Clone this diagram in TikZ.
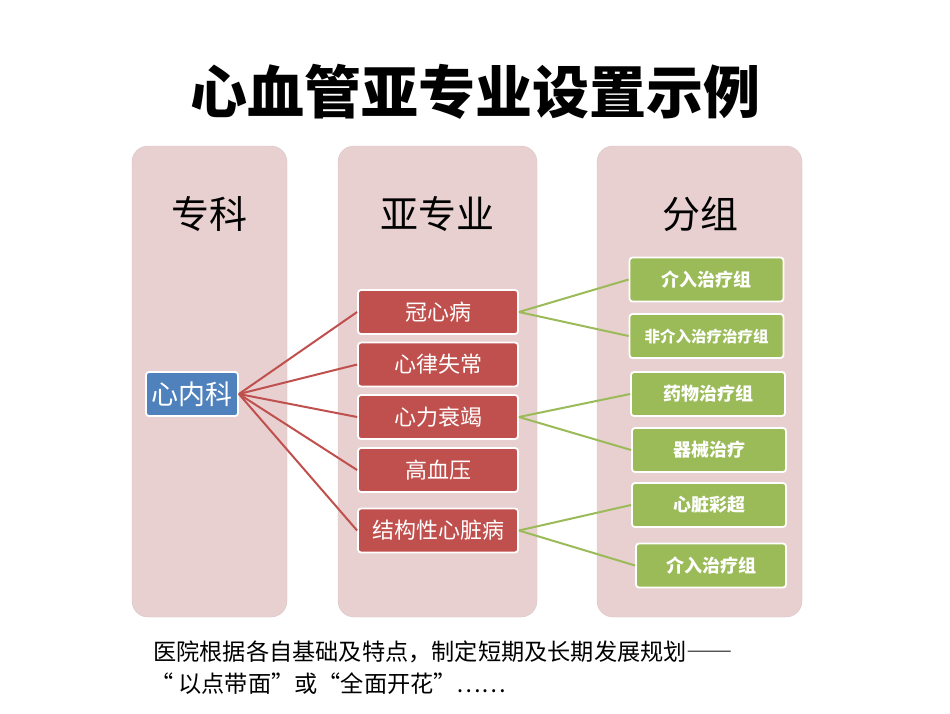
\documentclass[tikz,border=0pt]{standalone}
\usepackage{fontspec}
\setmainfont{Noto Sans CJK SC}
\newfontfamily\cjk{Noto Sans CJK SC}
\newfontfamily\cjkfull[CharacterWidth=Full]{Noto Sans CJK SC}
\usepackage{xcolor}
\usetikzlibrary{positioning}

\definecolor{colbg}{RGB}{232,208,208}
\definecolor{subred}{RGB}{192,80,77}
\definecolor{grpgreen}{RGB}{155,187,89}
\definecolor{deptblue}{RGB}{79,129,189}

\begin{document}
\begin{tikzpicture}[
    x=1pt, y=-1pt,
    column/.style={fill=colbg, draw=colbg!85!gray, rounded corners=16pt},
    header/.style={font=\cjk\fontsize{38}{42}\selectfont, text=black},
    dept/.style={draw=white, line width=1.8pt, fill=deptblue, rounded corners=3pt, minimum width=92pt, minimum height=44pt, text=white, font=\cjk\fontsize{27}{30}\selectfont, inner sep=0pt},
    sub/.style={draw=white, line width=1.8pt, fill=subred, rounded corners=3pt, minimum width=160pt, minimum height=44pt, text=white, font=\cjk\fontsize{22}{26}\selectfont, inner sep=0pt},
    grp/.style={draw=white, line width=1.8pt, fill=grpgreen, rounded corners=3pt, minimum width=154pt, minimum height=44pt, text=white, font=\cjk\bfseries\fontsize{18}{22}\selectfont, inner sep=0pt},
    note/.style={anchor=west, font=\cjkfull\fontsize{23.2}{27}\selectfont, inner sep=0pt},
    redline/.style={draw=subred, line width=2pt},
    greenline/.style={draw=grpgreen, line width=2pt}
]
\useasboundingbox (0,0) rectangle (950,713);

% Title
\node[font=\cjk\bfseries\fontsize{57}{62}\selectfont] (title) at (475,92) {心血管亚专业设置示例};

% Columns
\draw[column] (132,146) rectangle (287,617);
\draw[column] (338,146) rectangle (537,617);
\draw[column] (597,146) rectangle (802,617);
\node[header] (h1) at (209,214) {专科};
\node[header] (h2) at (437,214) {亚专业};
\node[header] (h3) at (700,214) {分组};

% Specialty
\node[dept] (xnk) at (192,394) {心内科};

% Sub-specialties
\node[sub] (gxb) at (438,312) {冠心病};
\node[sub] (xlsc) at (438,364.5) {心律失常};
\node[sub] (xlsj) at (438,417) {心力衰竭};
\node[sub] (gxy) at (438,470) {高血压};
\node[sub] (jgx) at (438,530.5) {结构性心脏病};

% Groups
\node[grp] (g1) at (706.5,279.5) {介入治疗组};
\node[grp, font=\cjk\bfseries\fontsize{15.5}{18}\selectfont] (g2) at (706.5,336) {非介入治疗治疗组};
\node[grp] (g3) at (708,394) {药物治疗组};
\node[grp] (g4) at (709,450) {器械治疗};
\node[grp] (g5) at (709,505) {心脏彩超};
\node[grp, minimum width=150pt] (g6) at (711,565.5) {介入治疗组};

% Connections
\foreach \s in {gxb, xlsc, xlsj, gxy, jgx}
    \draw[redline] (xnk.east) -- (\s.west);
\draw[greenline] (gxb.east) -- (g1.west);
\draw[greenline] (gxb.east) -- (g2.west);
\draw[greenline] (xlsj.east) -- (g3.west);
\draw[greenline] (xlsj.east) -- (g4.west);
\draw[greenline] (jgx.east) -- (g5.west);
\draw[greenline] (jgx.east) -- (g6.west);

% Note
\node[note] (note1) at (153,652) {医院根据各自基础及特点，制定短期及长期发展规划——};
\node[note] (note2) at (150,684) {“{\cjk\ }以点带面”或“全面开花”……};

\end{tikzpicture}
\end{document}
